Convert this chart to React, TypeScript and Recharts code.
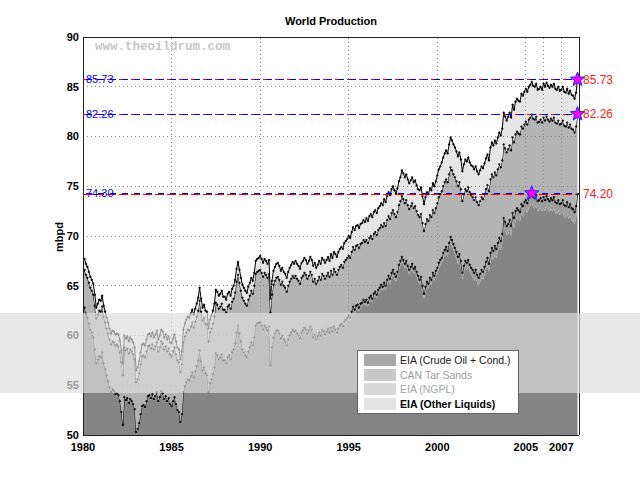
import { AreaChart, Area, XAxis, YAxis, ReferenceLine, ReferenceDot } from 'recharts';

// monthly values, one row per year (Jan..Dec), mbpd
const startYear = 1980;

const crude: number[][] = [
  [62.3, 62.6, 62.0, 61.6, 61.0, 60.4, 60.1, 59.6, 58.4, 57.0, 57.4, 57.7],
  [57.6, 58.1, 57.0, 56.4, 55.8, 55.2, 54.6, 54.1, 54.4, 54.2, 53.9, 54.0],
  [53.8, 53.2, 52.1, 50.8, 53.6, 53.3, 53.5, 53.0, 53.4, 53.2, 52.9, 52.4],
  [50.1, 50.4, 51.0, 51.9, 52.7, 52.8, 52.6, 53.2, 53.7, 53.8, 53.5, 53.9],
  [53.4, 53.7, 54.1, 53.2, 53.6, 54.2, 54.0, 53.4, 53.7, 53.2, 53.5, 52.9],
  [52.7, 53.2, 53.6, 52.9, 52.3, 52.1, 51.1, 51.9, 54.1, 54.7, 55.1, 55.4],
  [55.3, 55.7, 56.1, 55.6, 56.2, 56.7, 57.3, 58.3, 57.2, 56.3, 56.6, 56.0],
  [55.8, 54.1, 55.0, 55.4, 55.9, 56.6, 58.0, 57.8, 57.4, 57.6, 57.9, 57.3],
  [57.2, 56.9, 57.5, 57.7, 57.3, 58.0, 58.3, 58.9, 60.0, 60.7, 59.9, 59.1],
  [58.3, 58.0, 57.7, 57.5, 58.1, 58.5, 59.0, 58.7, 59.5, 60.7, 60.9, 61.0],
  [61.0, 60.7, 60.3, 60.7, 60.5, 60.2, 60.6, 56.7, 58.5, 59.5, 59.9, 60.2],
  [60.2, 59.9, 59.4, 59.7, 59.3, 59.1, 58.7, 59.3, 59.7, 60.0, 60.3, 60.1],
  [60.2, 59.9, 59.7, 59.4, 60.0, 60.2, 60.5, 60.3, 59.9, 60.2, 60.6, 60.3],
  [59.5, 59.8, 59.3, 59.6, 60.0, 59.7, 60.3, 60.1, 59.8, 60.1, 60.4, 60.0],
  [60.5, 60.1, 60.6, 60.3, 60.0, 60.4, 60.7, 60.9, 60.6, 61.1, 61.3, 61.5],
  [61.6, 61.4, 62.0, 62.5, 62.2, 62.6, 62.7, 62.4, 62.8, 62.9, 63.2, 63.0],
  [63.2, 62.9, 63.4, 63.6, 63.3, 63.8, 64.0, 63.7, 64.2, 64.4, 64.7, 64.5],
  [64.8, 64.5, 65.1, 65.5, 65.2, 65.8, 66.1, 65.7, 65.4, 65.9, 66.6, 67.0],
  [67.4, 67.1, 66.7, 67.0, 66.5, 66.1, 66.4, 66.7, 66.2, 66.4, 65.9, 65.5],
  [65.1, 65.4, 64.5, 63.7, 64.4, 64.9, 64.7, 65.3, 65.1, 65.8, 65.5, 66.0],
  [66.2, 66.7, 67.0, 67.2, 67.7, 68.0, 68.3, 67.9, 68.7, 69.3, 69.0, 68.6],
  [68.1, 67.7, 67.2, 67.5, 66.8, 65.6, 66.3, 66.8, 66.6, 66.9, 66.4, 66.1],
  [65.8, 65.5, 65.8, 65.3, 65.0, 65.4, 65.8, 65.6, 66.1, 66.6, 67.0, 66.4],
  [67.4, 67.9, 67.6, 68.1, 67.8, 68.4, 68.9, 68.6, 69.3, 70.9, 70.5, 70.1],
  [70.2, 70.6, 70.0, 71.3, 70.8, 71.5, 71.8, 71.6, 71.4, 72.2, 72.0, 72.4],
  [72.6, 72.3, 72.8, 73.0, 73.3, 72.9, 72.8, 73.1, 72.5, 72.6, 72.8, 72.5],
  [72.8, 72.5, 72.9, 72.6, 72.4, 72.7, 72.5, 72.8, 72.3, 72.2, 72.5, 72.1],
  [72.1, 72.4, 71.9, 71.8, 72.2, 71.7, 72.0, 71.6, 71.5, 71.2, 71.8, 73.0],
];

const tarSands: number[][] = [
  [0.2, 0.2, 0.2, 0.2, 0.2, 0.2, 0.2, 0.2, 0.2, 0.2, 0.2, 0.2],
  [0.2, 0.2, 0.2, 0.2, 0.2, 0.2, 0.2, 0.2, 0.2, 0.2, 0.2, 0.2],
  [0.2, 0.2, 0.2, 0.2, 0.2, 0.2, 0.2, 0.2, 0.2, 0.2, 0.2, 0.2],
  [0.2, 0.2, 0.2, 0.2, 0.2, 0.2, 0.2, 0.2, 0.2, 0.2, 0.2, 0.2],
  [0.2, 0.2, 0.2, 0.2, 0.2, 0.2, 0.2, 0.2, 0.2, 0.2, 0.2, 0.2],
  [0.2, 0.2, 0.2, 0.2, 0.2, 0.2, 0.2, 0.2, 0.2, 0.2, 0.2, 0.2],
  [0.2, 0.2, 0.2, 0.2, 0.2, 0.2, 0.2, 0.2, 0.2, 0.2, 0.2, 0.2],
  [0.2, 0.2, 0.2, 0.2, 0.2, 0.2, 0.2, 0.2, 0.2, 0.2, 0.2, 0.2],
  [0.3, 0.3, 0.3, 0.3, 0.3, 0.3, 0.3, 0.3, 0.3, 0.3, 0.3, 0.3],
  [0.3, 0.3, 0.3, 0.3, 0.3, 0.3, 0.3, 0.3, 0.3, 0.3, 0.3, 0.3],
  [0.3, 0.3, 0.3, 0.3, 0.3, 0.3, 0.3, 0.3, 0.3, 0.3, 0.3, 0.3],
  [0.3, 0.3, 0.3, 0.3, 0.3, 0.3, 0.3, 0.3, 0.3, 0.3, 0.3, 0.3],
  [0.3, 0.3, 0.3, 0.3, 0.3, 0.3, 0.3, 0.3, 0.3, 0.3, 0.3, 0.3],
  [0.3, 0.3, 0.3, 0.3, 0.3, 0.3, 0.3, 0.3, 0.3, 0.3, 0.3, 0.3],
  [0.3, 0.3, 0.3, 0.3, 0.3, 0.3, 0.3, 0.3, 0.3, 0.3, 0.3, 0.3],
  [0.4, 0.4, 0.4, 0.4, 0.4, 0.4, 0.4, 0.4, 0.4, 0.4, 0.4, 0.4],
  [0.4, 0.4, 0.4, 0.4, 0.4, 0.4, 0.4, 0.4, 0.4, 0.4, 0.4, 0.4],
  [0.5, 0.5, 0.5, 0.5, 0.5, 0.5, 0.5, 0.5, 0.5, 0.5, 0.5, 0.5],
  [0.5, 0.5, 0.5, 0.5, 0.5, 0.5, 0.5, 0.5, 0.5, 0.5, 0.5, 0.5],
  [0.5, 0.5, 0.5, 0.5, 0.5, 0.5, 0.5, 0.5, 0.5, 0.5, 0.5, 0.5],
  [0.6, 0.6, 0.6, 0.6, 0.6, 0.6, 0.6, 0.6, 0.6, 0.6, 0.6, 0.6],
  [0.7, 0.7, 0.7, 0.7, 0.7, 0.7, 0.7, 0.7, 0.7, 0.7, 0.7, 0.7],
  [0.8, 0.8, 0.8, 0.8, 0.8, 0.8, 0.8, 0.8, 0.8, 0.8, 0.8, 0.8],
  [0.9, 0.9, 0.9, 0.9, 0.9, 0.9, 0.9, 0.9, 0.9, 0.9, 0.9, 0.9],
  [1.0, 1.0, 1.0, 1.0, 1.0, 1.0, 1.0, 1.0, 1.0, 1.0, 1.0, 1.0],
  [1.0, 1.0, 1.0, 1.0, 1.0, 1.0, 1.0, 1.0, 1.0, 1.0, 1.0, 1.0],
  [1.1, 1.1, 1.1, 1.1, 1.1, 1.1, 1.1, 1.1, 1.1, 1.1, 1.1, 1.1],
  [1.2, 1.2, 1.2, 1.2, 1.2, 1.2, 1.2, 1.2, 1.2, 1.2, 1.2, 1.2],
];

const ngpl: number[][] = [
  [3.7, 3.8, 3.9, 4.0, 4.1, 4.2, 4.2, 4.3, 4.4, 4.5, 4.5, 4.6],
  [4.6, 4.6, 4.7, 4.7, 4.7, 4.8, 4.8, 4.8, 4.8, 4.9, 4.9, 4.9],
  [4.9, 4.9, 5.0, 5.0, 5.0, 5.0, 5.0, 5.0, 5.0, 5.0, 5.0, 5.0],
  [5.0, 5.0, 5.0, 5.0, 5.0, 5.0, 5.0, 5.0, 5.0, 5.0, 5.0, 5.0],
  [5.0, 5.0, 5.0, 5.0, 5.0, 5.0, 5.0, 5.0, 5.0, 5.0, 5.0, 5.0],
  [5.0, 5.0, 5.0, 5.0, 5.0, 5.0, 5.0, 5.0, 5.0, 5.0, 5.0, 5.0],
  [5.0, 5.0, 5.0, 5.0, 5.0, 5.0, 5.0, 5.0, 5.0, 5.0, 5.0, 5.0],
  [5.1, 5.1, 5.1, 5.1, 5.1, 5.1, 5.1, 5.1, 5.1, 5.1, 5.1, 5.1],
  [5.1, 5.1, 5.1, 5.1, 5.1, 5.1, 5.1, 5.1, 5.1, 5.1, 5.1, 5.1],
  [5.2, 5.2, 5.2, 5.2, 5.2, 5.2, 5.2, 5.2, 5.2, 5.2, 5.2, 5.2],
  [5.3, 5.3, 5.3, 5.3, 5.3, 5.3, 5.3, 5.3, 5.3, 5.3, 5.3, 5.3],
  [5.4, 5.4, 5.4, 5.4, 5.4, 5.4, 5.4, 5.4, 5.4, 5.4, 5.4, 5.4],
  [5.5, 5.5, 5.5, 5.5, 5.5, 5.5, 5.5, 5.5, 5.5, 5.5, 5.5, 5.5],
  [5.6, 5.6, 5.6, 5.6, 5.6, 5.6, 5.6, 5.6, 5.6, 5.6, 5.6, 5.6],
  [5.7, 5.7, 5.8, 5.8, 5.8, 5.9, 5.9, 5.9, 5.9, 6.0, 6.0, 6.0],
  [6.0, 6.0, 6.0, 6.0, 6.0, 6.0, 6.0, 6.0, 6.0, 6.0, 6.0, 6.0],
  [6.0, 6.0, 6.0, 6.0, 6.0, 6.0, 6.0, 6.0, 6.0, 6.0, 6.0, 6.0],
  [6.0, 6.0, 6.0, 6.0, 6.0, 6.0, 6.0, 6.0, 6.0, 6.0, 6.0, 6.0],
  [6.1, 6.1, 6.1, 6.1, 6.1, 6.1, 6.1, 6.1, 6.1, 6.1, 6.1, 6.1],
  [6.3, 6.3, 6.3, 6.3, 6.3, 6.3, 6.3, 6.3, 6.3, 6.3, 6.3, 6.3],
  [6.5, 6.6, 6.6, 6.7, 6.7, 6.8, 6.8, 6.9, 6.9, 7.0, 7.0, 7.0],
  [7.1, 7.1, 7.1, 7.2, 7.2, 7.2, 7.2, 7.2, 7.2, 7.3, 7.3, 7.3],
  [7.3, 7.3, 7.3, 7.3, 7.3, 7.3, 7.3, 7.3, 7.3, 7.3, 7.3, 7.3],
  [7.4, 7.4, 7.4, 7.4, 7.4, 7.4, 7.4, 7.4, 7.4, 7.4, 7.4, 7.4],
  [7.5, 7.5, 7.6, 7.6, 7.6, 7.7, 7.7, 7.7, 7.8, 7.8, 7.8, 7.8],
  [7.9, 7.9, 7.9, 7.9, 7.9, 7.9, 7.9, 7.9, 7.9, 7.9, 7.9, 7.9],
  [8.0, 8.0, 8.0, 8.0, 8.0, 8.0, 8.0, 8.0, 8.0, 8.0, 8.0, 8.0],
  [8.0, 8.0, 8.0, 8.0, 8.0, 8.0, 8.0, 8.0, 8.0, 8.0, 8.0, 8.06],
];

const otherLiquids: number[][] = [
  [1.1, 1.1, 1.1, 1.1, 1.1, 1.1, 1.1, 1.1, 1.1, 1.1, 1.1, 1.1],
  [1.1, 1.1, 1.1, 1.1, 1.1, 1.1, 1.1, 1.1, 1.1, 1.1, 1.1, 1.1],
  [1.2, 1.2, 1.2, 1.2, 1.2, 1.2, 1.2, 1.2, 1.2, 1.2, 1.2, 1.2],
  [1.2, 1.2, 1.2, 1.2, 1.2, 1.2, 1.2, 1.2, 1.2, 1.2, 1.2, 1.2],
  [1.2, 1.2, 1.2, 1.2, 1.2, 1.2, 1.2, 1.2, 1.2, 1.2, 1.2, 1.2],
  [1.3, 1.3, 1.3, 1.3, 1.3, 1.3, 1.3, 1.3, 1.3, 1.3, 1.3, 1.3],
  [1.3, 1.3, 1.3, 1.3, 1.3, 1.3, 1.3, 1.3, 1.3, 1.3, 1.3, 1.3],
  [1.3, 1.3, 1.3, 1.3, 1.3, 1.3, 1.3, 1.3, 1.3, 1.3, 1.3, 1.3],
  [1.3, 1.3, 1.3, 1.3, 1.3, 1.3, 1.3, 1.3, 1.3, 1.3, 1.3, 1.3],
  [1.3, 1.3, 1.3, 1.3, 1.3, 1.3, 1.3, 1.3, 1.3, 1.3, 1.3, 1.3],
  [1.4, 1.4, 1.4, 1.4, 1.4, 1.4, 1.4, 1.4, 1.4, 1.4, 1.4, 1.4],
  [1.4, 1.4, 1.4, 1.4, 1.4, 1.4, 1.4, 1.4, 1.4, 1.4, 1.4, 1.4],
  [1.5, 1.5, 1.5, 1.5, 1.5, 1.5, 1.5, 1.5, 1.5, 1.5, 1.5, 1.5],
  [1.6, 1.6, 1.6, 1.6, 1.6, 1.6, 1.6, 1.6, 1.6, 1.6, 1.6, 1.6],
  [1.7, 1.7, 1.7, 1.8, 1.8, 1.8, 1.8, 1.8, 1.9, 1.9, 1.9, 1.9],
  [2.0, 2.0, 2.0, 2.0, 2.0, 2.0, 2.0, 2.0, 2.0, 2.0, 2.0, 2.0],
  [2.2, 2.2, 2.2, 2.2, 2.2, 2.2, 2.2, 2.2, 2.2, 2.2, 2.2, 2.2],
  [2.4, 2.4, 2.4, 2.4, 2.4, 2.4, 2.4, 2.4, 2.4, 2.4, 2.4, 2.4],
  [2.6, 2.6, 2.6, 2.6, 2.6, 2.6, 2.6, 2.6, 2.6, 2.6, 2.6, 2.6],
  [2.7, 2.7, 2.7, 2.7, 2.7, 2.7, 2.7, 2.7, 2.7, 2.7, 2.7, 2.7],
  [2.8, 2.8, 2.8, 2.9, 2.9, 2.9, 2.9, 2.9, 3.0, 3.0, 3.0, 3.0],
  [3.0, 3.0, 3.0, 3.0, 3.0, 3.0, 3.0, 3.0, 3.0, 3.0, 3.0, 3.0],
  [3.1, 3.1, 3.1, 3.1, 3.1, 3.1, 3.1, 3.1, 3.1, 3.1, 3.1, 3.1],
  [3.2, 3.2, 3.2, 3.2, 3.2, 3.2, 3.2, 3.2, 3.2, 3.2, 3.2, 3.2],
  [3.3, 3.3, 3.3, 3.3, 3.3, 3.3, 3.3, 3.3, 3.3, 3.3, 3.3, 3.3],
  [3.3, 3.3, 3.3, 3.3, 3.3, 3.3, 3.3, 3.3, 3.3, 3.3, 3.3, 3.3],
  [3.4, 3.4, 3.4, 3.4, 3.4, 3.4, 3.4, 3.4, 3.4, 3.4, 3.4, 3.4],
  [3.4, 3.4, 3.4, 3.4, 3.4, 3.4, 3.4, 3.4, 3.4, 3.4, 3.4, 3.47],
];

const seriesNames = ['EIA (Crude Oil + Cond.)', 'CAN Tar Sands', 'EIA (NGPL)', 'EIA (Other Liquids)'];
const xTicks = [1980, 1985, 1990, 1995, 2000, 2005, 2006, 2007];
const yTicks = [50, 55, 60, 65, 70, 75, 80, 85, 90];

const keys = ['crude', 'tar', 'ngpl', 'other'];
const fills = ['#858585', '#9e9e9e', '#b4b4b4', '#e6e6e6'];

const data = crude.flatMap((row, yi) =>
  row.map((c, m) => ({
    t: startYear + yi + m / 12,
    crude: c,
    tar: tarSands[yi][m],
    ngpl: ngpl[yi][m],
    other: otherLiquids[yi][m],
  }))
);

// cumulative top of layer n (crude+tar, +ngpl, +other): max and latest value
const levelAt = (d: any, n: number) => keys.slice(0, n).reduce((s, k) => s + d[k], 0);
const levels = [2, 3, 4].map((n) => {
  let max = -Infinity;
  let maxT = 0;
  data.forEach((d) => {
    const v = levelAt(d, n);
    if (v > max + 1e-6) {
      max = v;
      maxT = d.t;
    }
  });
  return { max, maxT, last: levelAt(data[data.length - 1], n) };
});

const Star = (props: any) => {
  const { cx, cy } = props;
  const pts: string[] = [];
  for (let i = 0; i < 10; i++) {
    const r = i % 2 === 0 ? 7.5 : 3.2;
    const a = -Math.PI / 2 + (i * Math.PI) / 5;
    pts.push(`${cx + r * Math.cos(a)},${cy + r * Math.sin(a)}`);
  }
  return <polygon points={pts.join(' ')} fill="#ff00ff" stroke="#2222ff" strokeWidth={1} />;
};

const dotStyle = { r: 0.9, fill: '#000', stroke: '#000', strokeWidth: 0.4 };
const tickStyle = { fill: '#000', fontSize: 11, fontWeight: 'bold' };

const legendRows = [
  { swatch: '#a9a9a9', color: '#1a1a1a', weight: 'normal' },
  { swatch: '#c8c8c8', color: '#9a9a9a', weight: 'normal' },
  { swatch: '#d8d8d8', color: '#a4a4a4', weight: 'normal' },
  { swatch: '#e3e3e3', color: '#000', weight: 'bold' },
];

export default function App() {
  return (
    <div
      style={{
        position: 'absolute',
        left: 0,
        top: 0,
        width: 640,
        height: 490,
        background: '#fff',
        fontFamily: '"Liberation Sans", Arial, sans-serif',
      }}
    >
      <AreaChart width={640} height={490} data={data} margin={{ top: 37, right: 61, left: 43, bottom: 25 }}>
        <XAxis
          dataKey="t"
          type="number"
          domain={[1980, 2008]}
          ticks={xTicks}
          allowDataOverflow
          tickFormatter={(v: number) => (v === 2006 ? '' : String(v))}
          tick={tickStyle}
          tickSize={0}
          tickMargin={8}
          axisLine={false}
          height={30}
        />
        <YAxis
          type="number"
          domain={[50, 90]}
          ticks={yTicks}
          allowDataOverflow
          tick={tickStyle}
          tickSize={0}
          tickMargin={4}
          axisLine={false}
          width={40}
        />
        {keys.map((k, i) => (
          <Area
            key={k}
            type="linear"
            dataKey={k}
            name={seriesNames[i]}
            stackId="liquids"
            fill={fills[i]}
            fillOpacity={1}
            stroke={i === 0 ? 'none' : '#000'}
            strokeWidth={1}
            dot={i === 0 ? false : dotStyle}
            activeDot={false}
            isAnimationActive={false}
          />
        ))}
        {xTicks.map((t) => (
          <ReferenceLine key={'gx' + t} x={t} stroke="#8a8a8a" strokeDasharray="1 3" shapeRendering="crispEdges" />
        ))}
        {yTicks.map((v) => (
          <ReferenceLine key={'gy' + v} y={v} stroke="#8a8a8a" strokeDasharray="1 3" shapeRendering="crispEdges" />
        ))}
        <ReferenceLine x={1980} stroke="#222" shapeRendering="crispEdges" />
        <ReferenceLine x={2008} stroke="#222" shapeRendering="crispEdges" />
        <ReferenceLine y={50} stroke="#222" shapeRendering="crispEdges" />
        <ReferenceLine y={90} stroke="#222" shapeRendering="crispEdges" />
        {levels.map((lv, i) => (
          <ReferenceLine
            key={'last' + i}
            y={lv.last}
            stroke="#ff0000"
            strokeDasharray="9 3"
            shapeRendering="crispEdges"
            label={{ value: lv.last.toFixed(2), position: 'right', offset: 4, fill: '#ff2020', fontSize: 12 }}
          />
        ))}
        {levels.map((lv, i) => (
          <ReferenceLine
            key={'max' + i}
            y={lv.max}
            stroke="#0000ff"
            strokeDasharray="6 6"
            strokeDashoffset={-3}
            shapeRendering="crispEdges"
            label={{ value: lv.max.toFixed(2), position: 'insideLeft', offset: 3, fill: '#0000ff', fontSize: 11 }}
          />
        ))}
        {levels.map((lv, i) => (
          <ReferenceDot key={'star' + i} x={lv.maxT} y={lv.max} r={7} shape={Star} ifOverflow="visible" />
        ))}
      </AreaChart>

      <svg width={640} height={490} style={{ position: 'absolute', left: 0, top: 0, pointerEvents: 'none' }}>
        <text x={331} y={25} textAnchor="middle" fontWeight="bold" fontSize={11}>
          World Production
        </text>
        <text
          x={59}
          y={237}
          transform="rotate(-90 59 237)"
          textAnchor="middle"
          dominantBaseline="central"
          fontWeight="bold"
          fontSize={11}
        >
          mbpd
        </text>
        <text x={95} y={50} fontFamily='"Liberation Mono", monospace' fontWeight="bold" fontSize={12.5} fill="#c6c6c6">
          www.theoildrum.com
        </text>
      </svg>

      <div
        style={{
          position: 'absolute',
          left: 0,
          top: 313,
          width: 640,
          height: 80,
          background: 'rgba(221,221,221,0.68)',
          pointerEvents: 'none',
        }}
      />

      <div
        style={{
          position: 'absolute',
          left: 357,
          top: 350,
          width: 160,
          height: 60,
          background: '#fff',
          border: '1px solid #666',
          paddingTop: 2,
          boxSizing: 'content-box',
        }}
      >
        {legendRows.map((row, i) => (
          <div key={i} style={{ display: 'flex', alignItems: 'center', height: 14.5 }}>
            <div style={{ width: 32, height: 12, marginLeft: 6, background: row.swatch }} />
            <span
              style={{ marginLeft: 4, fontSize: 10.5, color: row.color, fontWeight: row.weight as any, whiteSpace: 'nowrap' }}
            >
              {seriesNames[i]}
            </span>
          </div>
        ))}
      </div>
    </div>
  );
}
